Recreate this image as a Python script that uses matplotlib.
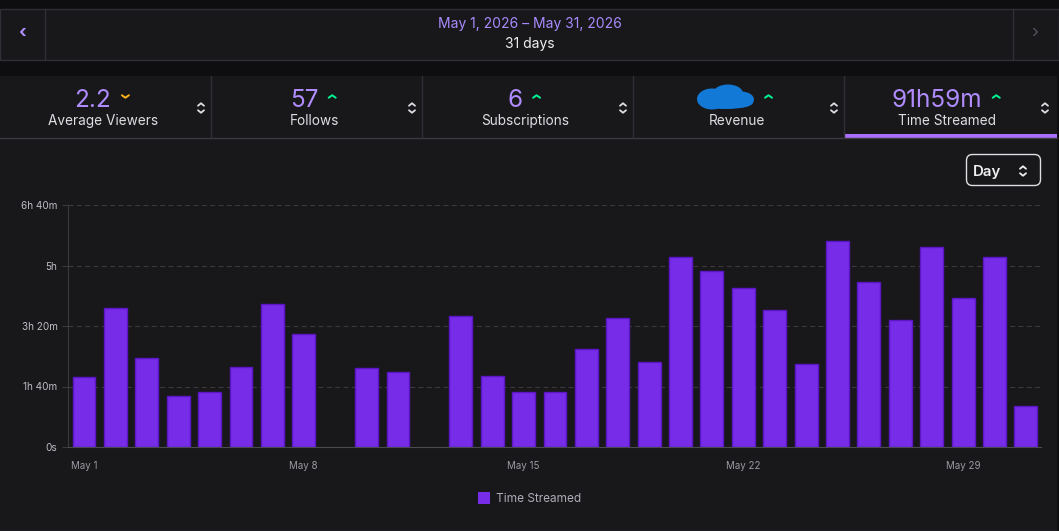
import matplotlib
matplotlib.use('Agg')
import matplotlib.pyplot as plt
from matplotlib.patches import Rectangle, FancyBboxPatch, Ellipse

plt.rcParams['font.family'] = ['Inter', 'DejaVu Sans']

# data
days = list(range(1, 32))
minutes_streamed = [116, 230, 147, 84, 91, 132, 237, 186, 0, 131, 124, 0, 217, 118,
                    91, 91, 162, 213, 140, 314, 291, 263, 226, 137, 340, 272, 210,
                    331, 246, 314, 67]
y_ticks = [0, 100, 200, 300, 400]
y_tick_labels = ['0s', '1h 40m', '3h 20m', '5h', '6h 40m']
x_ticks = [1, 8, 15, 22, 29]
x_tick_labels = ['May 1', 'May 8', 'May 15', 'May 22', 'May 29']
date_range = 'May 1, 2026 \u2013 May 31, 2026'
period = '31 days'
stat_values = ['2.2', '57', '6', '', '91h59m']
stat_labels = ['Average Viewers', 'Follows', 'Subscriptions', 'Revenue', 'Time Streamed']
stat_trend = ['down', 'up', 'up', 'up', 'up']
series_name = 'Time Streamed'
interval = 'Day'

# colours
PAGE = '#0e0e10'
PANEL = '#18181b'
LINE = '#2f2f35'
BAR = '#772ce8'
BAR_EDGE = '#5c16c5'
VALUE = '#b08cff'
TEXT = '#dedee3'
MUTED = '#adadb8'
GREEN = '#00f593'
ORANGE = '#ffb31a'

W, H = 1059, 531
fig = plt.figure(figsize=(W / 100, H / 100), dpi=100)
fig.patch.set_facecolor(PAGE)

# background layer in pixel coordinates
bg = fig.add_axes([0, 0, 1, 1])
bg.set_xlim(0, W)
bg.set_ylim(H, 0)
bg.axis('off')


def chevron(x, y, up=True, w=3.5, h=2.5, color=TEXT, lw=1.4):
    d = -h if up else h
    bg.plot([x - w, x, x + w], [y - d / 2, y + d / 2, y - d / 2], color=color,
            lw=lw, solid_capstyle='round', solid_joinstyle='round')


def sort_icon(x, y, color=TEXT):
    chevron(x, y - 3.5, up=True, w=3, h=2.5, color=color, lw=1.3)
    chevron(x, y + 3.5, up=False, w=3, h=2.5, color=color, lw=1.3)


# date header
bg.add_patch(Rectangle((0, 8.5), W, 51, facecolor=PANEL, edgecolor=LINE, lw=1))
bg.plot([45, 45], [9, 59], color=LINE, lw=1)
bg.plot([1013, 1013], [9, 59], color=LINE, lw=1)
bg.text(22, 34, '\u2039', ha='center', va='center', fontsize=13, color=VALUE, fontweight='bold')
bg.text(1035, 34, '\u203a', ha='center', va='center', fontsize=13, color='#53535f')
bg.text(529.5, 27.7, date_range, ha='center', va='baseline', fontsize=10, color='#a98bff')
bg.text(529.5, 48.3, period, ha='center', va='baseline', fontsize=10, color='#efeff1')

# stat cards
bg.add_patch(Rectangle((0, 75.5), 1057, 62, facecolor=PANEL, edgecolor='none'))
bg.plot([0, 1057], [137.5, 137.5], color='#3a3a40', lw=1)
for i in range(1, 5):
    bg.plot([211 * i, 211 * i], [75.5, 137], color=LINE, lw=1)
bg.add_patch(Rectangle((845, 134), 212, 3.5, facecolor='#a970ff', edgecolor='none'))

fig.canvas.draw()
renderer = fig.canvas.get_renderer()
for i, (val, lab, trend) in enumerate(zip(stat_values, stat_labels, stat_trend)):
    cx = 211 * i + 105.5
    bg.text(cx - 2, 125.3, lab, ha='center', va='baseline', fontsize=9.8, color=TEXT)
    if val:
        t = bg.text(cx - 12.5, 107, val, ha='center', va='baseline', fontsize=17.5, color=VALUE)
        right = t.get_window_extent(renderer=renderer).x1
    else:
        # redacted revenue scribble
        bx = cx - 12.5
        for ex, ey, ew, eh in [(-14, 1.5, 30, 21), (2, -4, 30, 18), (15, 2, 26, 16), (0, 5, 54, 13)]:
            bg.add_patch(Ellipse((bx + ex, 97.5 + ey), ew, eh, facecolor='#1279d6', edgecolor='none'))
        right = bx + 28.5
    if trend == 'up':
        chevron(right + 14, 96.5, up=True, color=GREEN)
    else:
        chevron(right + 14, 96.5, up=False, color=ORANGE)
    sort_icon(cx + 95.5, 108)

# chart panel
bg.add_patch(Rectangle((0, 138), 1057, H - 138, facecolor=PANEL, edgecolor='none'))
bg.plot([0, 1057], [530.5, 530.5], color=LINE, lw=1)

# interval selector
bg.add_patch(FancyBboxPatch((966.5, 154.5), 74, 31, boxstyle='round,pad=0,rounding_size=6',
                            facecolor='none', edgecolor=TEXT, lw=1))
bg.text(973, 176, interval, ha='left', va='baseline', fontsize=10.8, color='#efeff1',
        fontweight='semibold')
sort_icon(1023, 171, color='#efeff1')

# legend
bg.add_patch(Rectangle((478, 492), 12, 12, facecolor=BAR, edgecolor='none'))
bg.text(496, 502, series_name, ha='left', va='baseline', fontsize=8.5, color=MUTED)

# bar chart
ax = fig.add_axes([68 / W, (H - 447) / H, (1041 - 68) / W, (447 - 205) / H])
ax.set_facecolor('none')
edge_widths = [1 if m > 0 else 0 for m in minutes_streamed]
ax.bar(days, minutes_streamed, width=0.73, color=BAR, edgecolor=BAR_EDGE,
       linewidth=edge_widths, zorder=3)
ax.set_xlim(0.49, 31.48)
ax.set_ylim(0, 400)
ax.set_yticks(y_ticks, y_tick_labels)
ax.set_xticks(x_ticks, x_tick_labels)
ax.yaxis.grid(True, linestyle=(0, (4.5, 3)), color='#3a3a3e', lw=0.8, zorder=0)
for side in ['top', 'right']:
    ax.spines[side].set_visible(False)
ax.spines['left'].set_color('#3a3a3e')
ax.spines['bottom'].set_color('#4a4a50')
ax.spines['bottom'].set_zorder(4)
ax.tick_params(axis='y', length=4, pad=3.5, color='#3a3a3e', labelsize=7.2, labelcolor='#bdbdc4')
ax.tick_params(axis='x', length=0, pad=10, labelsize=7, labelcolor='#9a9aa2')

fig.savefig('out.png', dpi=100, facecolor=PAGE)
